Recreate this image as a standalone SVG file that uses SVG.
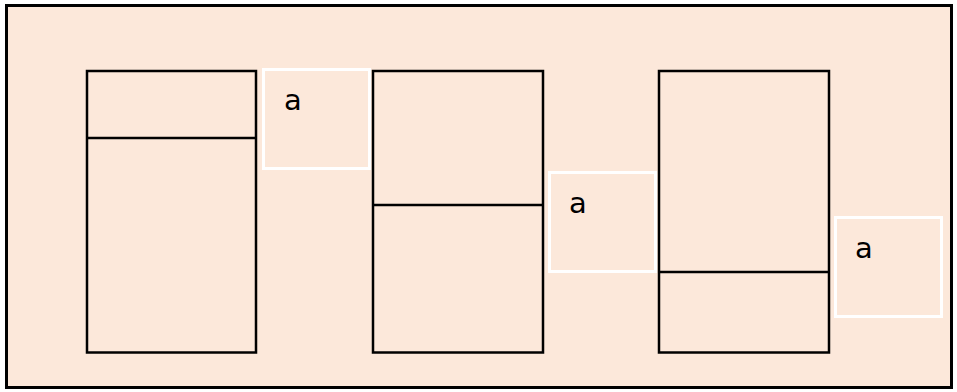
<svg xmlns="http://www.w3.org/2000/svg" width="957" height="392" viewBox="0 0 957 392">
<style>
.frame{fill:#fce8da;stroke:#000;stroke-width:3}
.col{fill:none;stroke:#000;stroke-width:2.5}
.lbl{fill:none;stroke:#fff;stroke-width:3}
.t{font-family:"DejaVu Sans",Verdana,sans-serif;font-size:29px;fill:#000}
</style>
<rect x="0" y="0" width="957" height="392" fill="#fff"/>
<rect class="frame" x="6.5" y="5.5" width="945" height="382"/>
<g id="col1"><rect class="col" x="87" y="71" width="169" height="281.5"/><line class="col" x1="87" y1="138" x2="256" y2="138"/></g>
<g id="col2"><rect class="col" x="373" y="71" width="170" height="281.5"/><line class="col" x1="373" y1="205" x2="543" y2="205"/></g>
<g id="col3"><rect class="col" x="659" y="71" width="170" height="281.5"/><line class="col" x1="659" y1="272" x2="829" y2="272"/></g>
<g id="label1"><rect class="lbl" x="263.5" y="69.5" width="106" height="99"/><text class="t" x="284" y="110">a</text></g>
<g id="label2"><rect class="lbl" x="549.5" y="172.5" width="106" height="99"/><text class="t" x="569" y="213">a</text></g>
<g id="label3"><rect class="lbl" x="835.5" y="217.5" width="106" height="99"/><text class="t" x="855" y="258">a</text></g>
</svg>
